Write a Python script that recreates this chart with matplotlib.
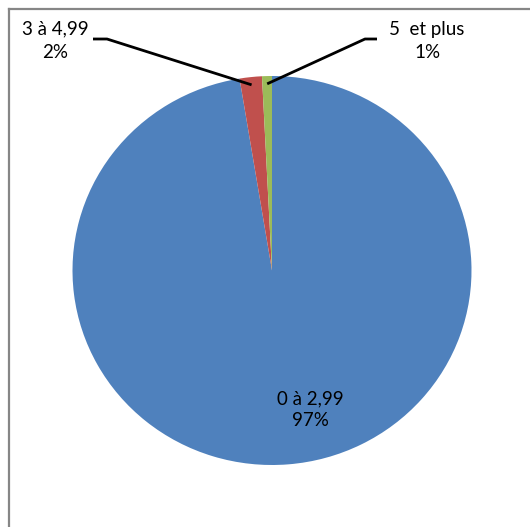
import numpy as np
import matplotlib
matplotlib.use('Agg')
import matplotlib.pyplot as plt
from matplotlib.lines import Line2D

plt.rcParams['font.family'] = ['Lato', 'DejaVu Sans']

categories = ['0 à 2,99', '3 à 4,99', '5  et plus']
shares = [97.4, 1.8, 0.8]
colors = ['#4F81BD', '#C0504D', '#9BBB59']

W, H = 530, 527
cx, cy = 272, 270.5      # pie centre in pixels
rx, ry = 199.5, 194.5    # pie radius (picture is slightly squashed)


def px(x, y):
    # pixel position -> data position
    return (x - cx) / rx, (cy - y) / ry


fig = plt.figure(figsize=(W / 100, H / 100), dpi=100)
ax = fig.add_axes([0, 0, 1, 1])
wedges, _ = ax.pie(shares, colors=colors, startangle=90, counterclock=False,
                   radius=1.0, wedgeprops=dict(linewidth=0))
ax.set_aspect('auto')
ax.set_xlim(-cx / rx, (W - cx) / rx)
ax.set_ylim(-(H - cy) / ry, cy / ry)
ax.axis('off')

pct = [f'{round(s):.0f}%' for s in shares]
fs = 13.5

# label inside the big slice
tx, ty = px(310.5, 410)
ax.text(tx, ty, f'{categories[0]}\n{pct[0]}', ha='center', va='center',
        fontsize=fs, linespacing=1.35, color='black')

# outside labels with leader lines
outer = [(1, (55, 41), (93, 107)), (2, (427, 41), (377, 365))]
for i, (lx, ly), (x0, x1) in outer:
    w = wedges[i]
    mid = np.deg2rad((w.theta1 + w.theta2) / 2)
    ex, ey = 0.96 * np.cos(mid), 0.96 * np.sin(mid)
    a = px(x0, 39)
    b = px(x1, 39)
    ax.plot([a[0], b[0], ex], [a[1], b[1], ey], color='black', lw=2,
            solid_capstyle='butt')
    t = px(lx, ly)
    ax.text(t[0], t[1], f'{categories[i]}\n{pct[i]}', ha='center',
            va='center', fontsize=fs, linespacing=1.45, color='black')

# chart frame
fig.add_artist(Line2D([9 / W, 1.0], [1 - 9 / H, 1 - 9 / H],
                      transform=fig.transFigure, color='#868686', lw=1.6))
fig.add_artist(Line2D([9 / W, 9 / W], [0, 1 - 9 / H],
                      transform=fig.transFigure, color='#868686', lw=1.6))

fig.savefig('out.png', dpi=100)
